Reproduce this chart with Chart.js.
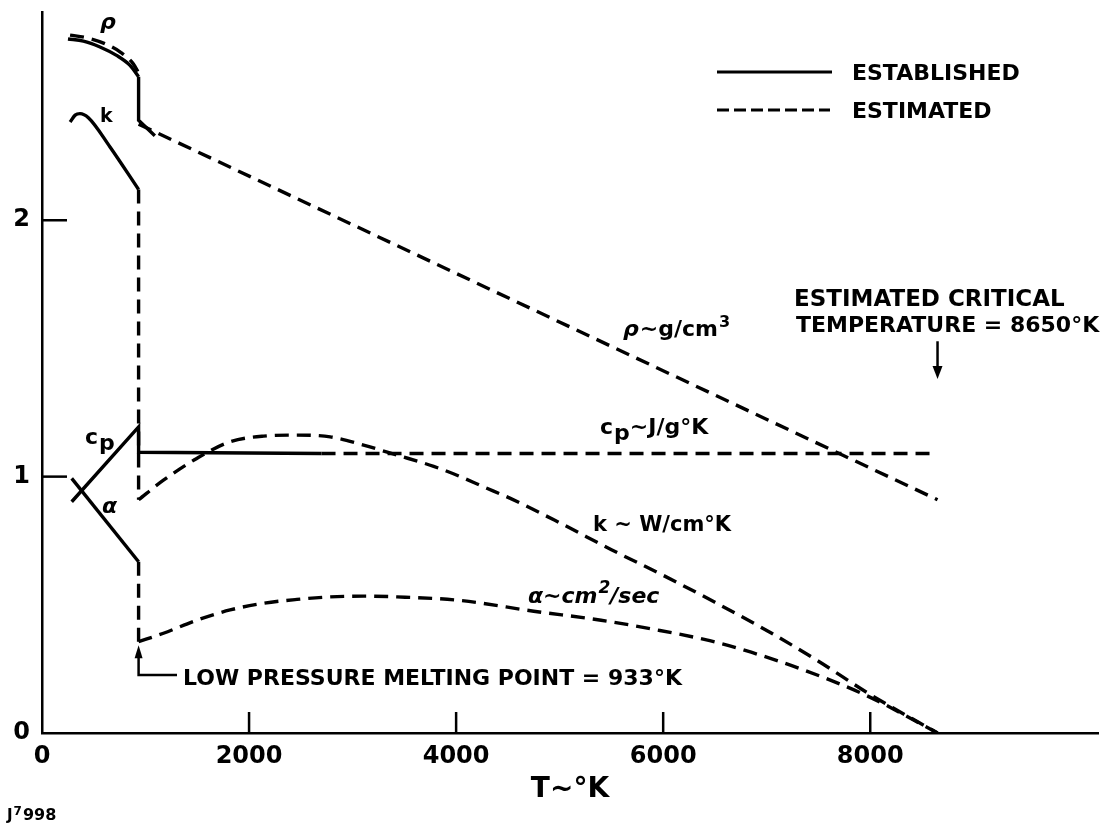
<!DOCTYPE html>
<html>
<head>
<meta charset="utf-8">
<title>Aluminum properties vs temperature</title>
<script src="https://cdn.jsdelivr.net/npm/chart.js@4.4.1/dist/chart.umd.min.js"></script>
<style>
  html, body { margin: 0; padding: 0; background: #fff; }
  canvas { display: block; }
</style>
</head>
<body>
<canvas id="mycan" width="1105" height="824"></canvas>
<script>
// axis ticks
var xTicks = [0, 2000, 4000, 6000, 8000];
var yTicks = [0, 1, 2];

// density rho (g/cm3)
var rhoSolidT = [251, 400, 560, 720, 850, 933];
var rhoSolid  = [2.707, 2.699, 2.676, 2.643, 2.604, 2.56];
var rhoJumpT  = [933, 933, 1090];
var rhoJump   = [2.56, 2.39, 2.33];
var rhoEstT   = [271, 430, 600, 760, 880, 933];
var rhoEst    = [2.722, 2.712, 2.69, 2.655, 2.611, 2.575];
var rhoLiqT   = [933, 8650];
var rhoLiq    = [2.375, 0.91];

// thermal conductivity k (W/cm K)
var kSolidT = [271, 320, 367, 448, 657, 933];
var kSolid  = [2.383, 2.41, 2.416, 2.40, 2.286, 2.12];
var kJumpT  = [933, 933];
var kJump   = [2.12, 0.91];
var kLiqT = [933, 1173, 1495, 1817, 2140, 2462, 2784, 3106, 3429, 3783, 4041, 4266, 4524, 5000, 5500, 6000, 6500, 7000, 7500, 8000, 8650];
var kLiq  = [0.91, 0.986, 1.071, 1.136, 1.158, 1.162, 1.155, 1.123, 1.084, 1.04, 1.0, 0.96, 0.915, 0.82, 0.715, 0.615, 0.51, 0.40, 0.28, 0.15, 0];

// specific heat cp (J/g K)
var cpSolidT = [287, 933, 933, 2700];
var cpSolid  = [0.902, 1.194, 1.095, 1.09];
var cpLiqT   = [2700, 8620];
var cpLiq    = [1.09, 1.09];

// diffusivity alpha (cm2/sec)
var aSolidT = [287, 933];
var aSolid  = [0.993, 0.668];
var aJumpT  = [933, 933];
var aJump   = [0.668, 0.356];
var aLiqT = [933, 1173, 1495, 1817, 2140, 2462, 2784, 3106, 3429, 4041, 4750, 5400, 5900, 6450, 6850, 7330, 7970, 8650];
var aLiq  = [0.356, 0.389, 0.44, 0.48, 0.506, 0.521, 0.531, 0.534, 0.531, 0.517, 0.475, 0.44, 0.405, 0.36, 0.315, 0.25, 0.145, 0];

var FONT = '"DejaVu Sans", sans-serif';

function pts(xs, ys) {
  var out = [];
  for (var i in xs) out.push({x: xs[i], y: ys[i]});
  return out;
}

function curve(xs, ys, dashed, smooth) {
  return {
    data: pts(xs, ys),
    showLine: true,
    borderColor: '#000',
    borderWidth: 3.4,
    borderDash: dashed ? [14, 8] : [],
    pointRadius: 0,
    fill: false,
    tension: 0,
    cubicInterpolationMode: smooth ? 'monotone' : 'default'
  };
}

// labels, arrows, inward ticks and key
var overlay = {
  id: 'overlay',
  afterDraw: function(chart) {
    var ctx = chart.ctx;
    var X = function(v) { return chart.scales.x.getPixelForValue(v); };
    var Y = function(v) { return chart.scales.y.getPixelForValue(v); };
    ctx.save();
    ctx.strokeStyle = '#000';
    ctx.fillStyle = '#000';
    ctx.textBaseline = 'alphabetic';
    ctx.textAlign = 'left';

    // ticks pointing into the plot
    ctx.lineWidth = 2.5;
    xTicks.slice(1).forEach(function(t) {
      ctx.beginPath(); ctx.moveTo(X(t), Y(0)); ctx.lineTo(X(t), Y(0) - 21); ctx.stroke();
    });
    yTicks.slice(1).forEach(function(t) {
      ctx.beginPath(); ctx.moveTo(X(0), Y(t)); ctx.lineTo(X(0) + 25, Y(t)); ctx.stroke();
    });

    function put(str, x, y, font) {
      ctx.font = font;
      ctx.fillText(str, x, y);
      return x + ctx.measureText(str).width;
    }
    var B22 = 'bold 22px ' + FONT;
    var I22 = 'italic bold 22px ' + FONT;
    var B16 = 'bold 16px ' + FONT;

    // curve names near the start
    put('\u03C1', X(628) - 7, Y(2.746), I22);
    put('k', X(560), Y(2.384), 'bold 19px ' + FONT);
    var cx = put('c', X(415), Y(1.128), B22);
    put('p', cx + 1, Y(1.128) + 6, B22);
    put('\u03B1', X(579), Y(0.859), I22);

    // units along the curves
    var x1 = put('\u03C1', X(5612), Y(1.548), I22);
    x1 = put('~g/cm', x1 + 1, Y(1.548), B22);
    put('3', x1 + 1, Y(1.548) - 9, B16);

    x1 = put('c', X(5390), Y(1.167), B22);
    x1 = put('p', x1 + 1, Y(1.167) + 6, B22);
    put('~J/g\u00B0K', x1, Y(1.167), B22);

    put('k ~ W/cm\u00B0K', X(5322), Y(0.789), 'bold 21px ' + FONT);

    x1 = put('\u03B1~cm', X(4694), Y(0.506), I22);
    x1 = put('2', x1 + 1, Y(0.506) - 10, 'italic bold 17px ' + FONT);
    put('/sec', x1, Y(0.506), I22);

    // melting point note
    put('LOW PRESSURE MELTING POINT = 933\u00B0K', X(1362), Y(0.187), B22);
    ctx.lineWidth = 2.5;
    ctx.beginPath();
    ctx.moveTo(X(1304), Y(0.226));
    ctx.lineTo(X(933), Y(0.226));
    ctx.lineTo(X(933), Y(0.342) + 11);
    ctx.stroke();
    ctx.beginPath();
    ctx.moveTo(X(933), Y(0.342));
    ctx.lineTo(X(933) - 4, Y(0.342) + 13);
    ctx.lineTo(X(933) + 4, Y(0.342) + 13);
    ctx.closePath(); ctx.fill();

    // critical temperature note
    put('ESTIMATED CRITICAL', X(7264), Y(1.664), 'bold 23px ' + FONT);
    put('TEMPERATURE = 8650\u00B0K', X(7283), Y(1.563), B22);
    ctx.beginPath();
    ctx.moveTo(X(8650), Y(1.528));
    ctx.lineTo(X(8650), Y(1.381) - 11);
    ctx.stroke();
    ctx.beginPath();
    ctx.moveTo(X(8650), Y(1.381));
    ctx.lineTo(X(8650) - 5, Y(1.381) - 13);
    ctx.lineTo(X(8650) + 5, Y(1.381) - 13);
    ctx.closePath(); ctx.fill();

    // key
    ctx.lineWidth = 3;
    ctx.beginPath(); ctx.moveTo(717, 72); ctx.lineTo(832, 72); ctx.stroke();
    ctx.setLineDash([12, 5]);
    ctx.beginPath(); ctx.moveTo(717, 110); ctx.lineTo(830, 110); ctx.stroke();
    ctx.setLineDash([]);
    put('ESTABLISHED', 852, 80, B22);
    put('ESTIMATED', 852, 118, B22);

    // figure number
    x1 = put('J', 7, 820, 'bold 15px ' + FONT);
    x1 = put('7', x1 + 1, 815, 'bold 12px ' + FONT);
    put('998', x1 + 1, 820, 'bold 16px ' + FONT);

    ctx.restore();
  }
};

var chartdata = {
  datasets: [
    curve(rhoSolidT, rhoSolid, false, true),
    curve(rhoJumpT, rhoJump, false, false),
    curve(rhoEstT, rhoEst, true, true),
    curve(rhoLiqT, rhoLiq, true, false),
    curve(kSolidT, kSolid, false, true),
    curve(kJumpT, kJump, true, false),
    curve(kLiqT, kLiq, true, true),
    curve(cpSolidT, cpSolid, false, false),
    curve(cpLiqT, cpLiq, true, false),
    curve(aSolidT, aSolid, false, false),
    curve(aJumpT, aJump, true, false),
    curve(aLiqT, aLiq, true, true)
  ]
};

var ctx = document.getElementById('mycan');
var graph = new Chart(ctx, {
  type: 'scatter',
  data: chartdata,
  plugins: [overlay],
  options: {
    responsive: false,
    animation: false,
    layout: { padding: { left: 0, right: 7, top: 0, bottom: 0 } },
    plugins: { legend: { display: false }, tooltip: { enabled: false } },
    scales: {
      x: {
        type: 'linear', min: 0, max: 10200,
        afterFit: function(s) { s.height = 91; },
        afterBuildTicks: function(s) { s.ticks = xTicks.map(function(v) { return {value: v}; }); },
        grid: { display: false, drawTicks: false },
        border: { display: true, color: '#000', width: 2.5 },
        ticks: { color: '#000', padding: 9, maxRotation: 0, autoSkip: false,
                 callback: function(v) { return String(v); },
                 font: { family: FONT, size: 24, weight: 'bold' } },
        title: { display: true, text: 'T~\u00B0K', color: '#000',
                 font: { family: FONT, size: 28, weight: 'bold' },
                 padding: { top: 0, bottom: 17 } }
      },
      y: {
        type: 'linear', min: 0, max: 2.81,
        afterFit: function(s) { s.width = 42; },
        afterBuildTicks: function(s) { s.ticks = yTicks.map(function(v) { return {value: v}; }); },
        grid: { display: false, drawTicks: false },
        border: { display: true, color: '#000', width: 2.5 },
        ticks: { color: '#000', padding: 12, crossAlign: 'center',
                 callback: function(v) { return String(v); },
                 font: { family: FONT, size: 24, weight: 'bold', lineHeight: 0.05 } }
      }
    }
  }
});
</script>
</body>
</html>
